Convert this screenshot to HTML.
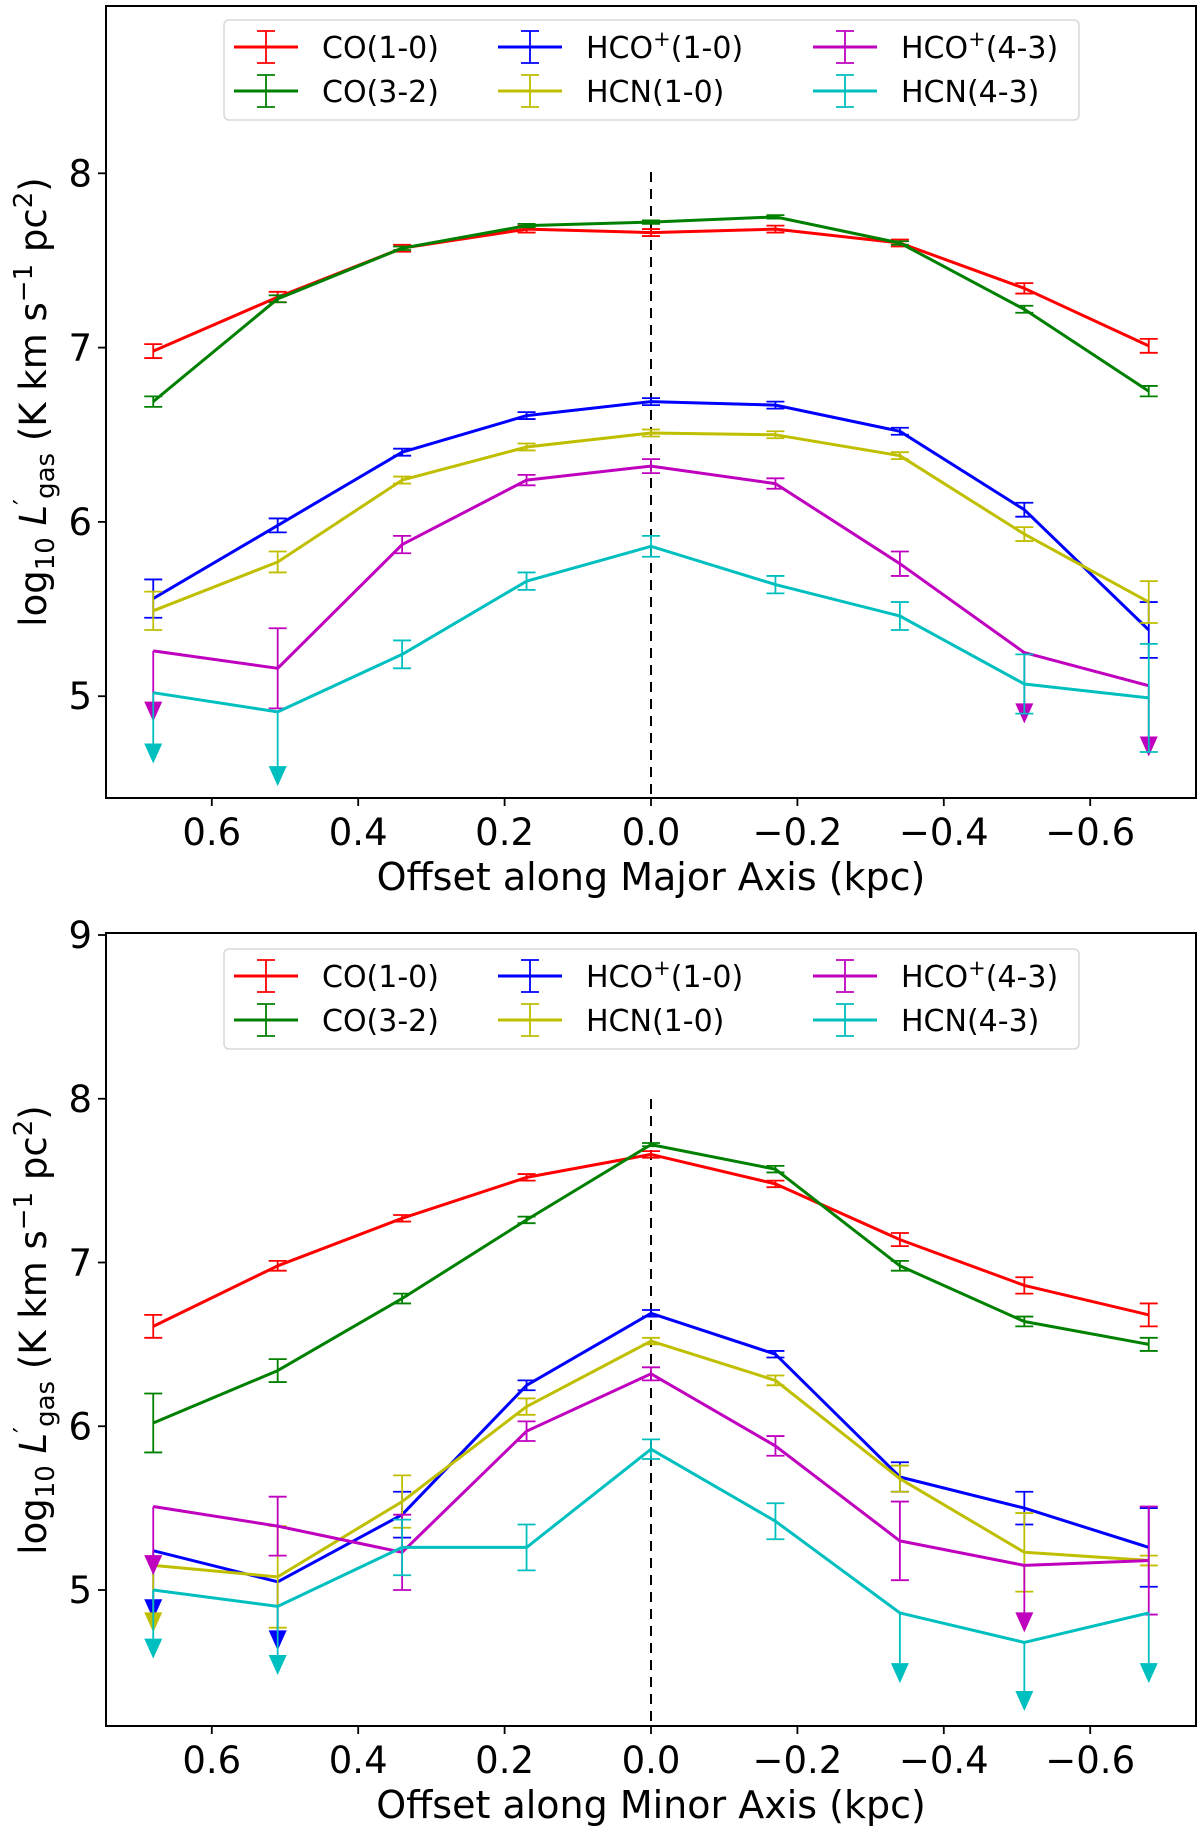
<!DOCTYPE html>
<html><head><meta charset="utf-8"><style>
html,body{margin:0;padding:0;background:#fff}
svg{display:block;font-family:"DejaVu Sans","Liberation Sans",sans-serif}
</style></head><body>
<svg id="fig" width="1200" height="1830" viewBox="0 0 1200 1830" xmlns="http://www.w3.org/2000/svg"></svg>
<script>
const offsets=[0.68,0.51,0.34,0.17,0,-0.17,-0.34,-0.51,-0.68];
const xTicks=[0.6,0.4,0.2,0.0,-0.2,-0.4,-0.6];
const xTickLabels=["0.6","0.4","0.2","0.0","\u22120.2","\u22120.4","\u22120.6"];
const seriesNames=["CO(1-0)","CO(3-2)","HCO+(1-0)","HCN(1-0)","HCO+(4-3)","HCN(4-3)"];
const seriesColors=["#ff0000","#008000","#0000ff","#bfbf00","#bf00bf","#00bfbf"];
// Major axis panel
const majCO10=[6.98,7.29,7.57,7.68,7.66,7.68,7.60,7.34,7.01];
const majCO10err=[0.04,0.03,0.02,0.02,0.02,0.02,0.02,0.03,0.04];
const majCO32=[6.69,7.28,7.57,7.70,7.72,7.75,7.60,7.22,6.75];
const majCO32err=[0.03,0.02,0.01,0.01,0.01,0.01,0.01,0.02,0.03];
const majHCOp10=[5.56,5.98,6.40,6.61,6.69,6.67,6.52,6.07,5.38];
const majHCOp10err=[0.11,0.04,0.02,0.02,0.02,0.02,0.02,0.04,0.16];
const majHCN10=[5.49,5.77,6.24,6.43,6.51,6.50,6.38,5.93,5.54];
const majHCN10err=[0.11,0.06,0.02,0.02,0.02,0.02,0.02,0.04,0.12];
const majHCOp43=[5.26,5.16,5.87,6.24,6.32,6.22,5.76,5.25,5.06];
const majHCOp43err=[0.36,0.23,0.05,0.03,0.04,0.03,0.07,0.36,0.36];
const majHCOp43lim=[1,0,0,0,0,0,0,1,1];
const majHCN43=[5.02,4.91,5.24,5.66,5.86,5.64,5.46,5.07,4.99];
const majHCN43err=[0.36,0.38,0.08,0.05,0.06,0.05,0.08,0.17,0.31];
const majHCN43lim=[1,1,0,0,0,0,0,0,0];
// Minor axis panel
const minCO10=[6.61,6.98,7.27,7.52,7.66,7.48,7.14,6.86,6.68];
const minCO10err=[0.07,0.03,0.02,0.02,0.02,0.02,0.04,0.05,0.07];
const minCO32=[6.02,6.34,6.78,7.26,7.72,7.57,6.98,6.64,6.50];
const minCO32err=[0.18,0.07,0.03,0.02,0.01,0.02,0.03,0.03,0.04];
const minHCOp10=[5.24,5.05,5.46,6.25,6.69,6.44,5.69,5.50,5.26];
const minHCOp10err=[0.37,0.37,0.14,0.03,0.02,0.02,0.09,0.10,0.24];
const minHCOp10lim=[1,1,0,0,0,0,0,0,0];
const minHCN10=[5.15,5.08,5.54,6.12,6.52,6.28,5.68,5.23,5.18];
const minHCN10err=[0.36,0.31,0.16,0.05,0.02,0.03,0.08,0.24,0.03];
const minHCN10lim=[1,0,0,0,0,0,0,0,0];
const minHCOp43=[5.51,5.39,5.23,5.97,6.32,5.88,5.30,5.15,5.18];
const minHCOp43err=[0.37,0.18,0.23,0.06,0.04,0.06,0.24,0.36,0.33];
const minHCOp43lim=[1,0,0,0,0,0,0,1,0];
const minHCN43=[5.00,4.90,5.26,5.26,5.86,5.42,4.86,4.68,4.86];
const minHCN43err=[0.37,0.37,0.17,0.14,0.06,0.11,0.38,0.37,0.38];
const minHCN43lim=[1,1,0,0,0,0,1,1,1];

const NS="http://www.w3.org/2000/svg";
const svg=document.getElementById('fig');
function mk(tag,attrs,parent){const e=document.createElementNS(NS,tag);for(const k in attrs)e.setAttribute(k,attrs[k]);(parent||svg).appendChild(e);return e;}

const zeros=[0,0,0,0,0,0,0,0,0];
const panels=[
 {name:'major',top:6,bottom:798,y0val:8,y0px:173.3,ppu:174.3,yTicks:[5,6,7,8],xlabel:'Offset along Major Axis (kpc)',
  legendY:20,dashTop:172,ylabelY:402,
  series:[[majCO10,majCO10err,zeros],[majCO32,majCO32err,zeros],[majHCOp10,majHCOp10err,zeros],[majHCN10,majHCN10err,zeros],[majHCOp43,majHCOp43err,majHCOp43lim],[majHCN43,majHCN43err,majHCN43lim]]},
 {name:'minor',top:933,bottom:1726,y0val:9,y0px:935,ppu:163.75,yTicks:[5,6,7,8,9],xlabel:'Offset along Minor Axis (kpc)',
  legendY:949,dashTop:1099,ylabelY:1330,
  series:[[minCO10,minCO10err,zeros],[minCO32,minCO32err,zeros],[minHCOp10,minHCOp10err,minHCOp10lim],[minHCN10,minHCN10err,minHCN10lim],[minHCOp43,minHCOp43err,minHCOp43lim],[minHCN43,minHCN43err,minHCN43lim]]}
];
const L=106,R=1196,X0=651,XPU=732;
function xs(v){return X0-v*XPU;}

panels.forEach(p=>{
 const g=mk('g',{});
 
 
 const ys=v=>p.y0px+(p.y0val-v)*p.ppu;
 const clipId='clip-'+p.name;
 const cp=mk('clipPath',{id:clipId},g);
 mk('rect',{x:L,y:p.top,width:R-L,height:p.bottom-p.top},cp);
 const dl=mk('line',{x1:xs(0),x2:xs(0),y1:p.dashTop,y2:p.bottom,stroke:'#000','stroke-width':2,'stroke-dasharray':'10,7'},g);
 
 
 const plot=mk('g',{'clip-path':'url(#'+clipId+')'},g);
 p.series.forEach((s,si)=>{
  const [vals,errs,lims]=s;const col=seriesColors[si];
  const sg=mk('g',{},plot);
  
  
  const pts=vals.map((v,i)=>xs(offsets[i]).toFixed(1)+','+ys(v).toFixed(1)).join(' ');
  const pl=mk('polyline',{points:pts,fill:'none',stroke:col,'stroke-width':3,'stroke-linejoin':'round'},sg);
  
  
  vals.forEach((v,i)=>{
   const x=xs(offsets[i]);
   if(lims[i]){
    const yb=ys(v-errs[i]);
    mk('line',{x1:x,x2:x,y1:ys(v),y2:yb,stroke:col,'stroke-width':1.8},sg);
    const ar=mk('polygon',{points:(x-9)+','+(yb-12)+' '+(x+9)+','+(yb-12)+' '+x+','+(yb+8),fill:col},sg);
    
    
   } else {
    const y1=ys(v+errs[i]),y2=ys(v-errs[i]);
    const eb=mk('path',{d:`M${x},${y1}V${y2}M${x-9},${y1}H${x+9}M${x-9},${y2}H${x+9}`,stroke:col,'stroke-width':1.8,fill:'none'},sg);
    
    
   }
  });
 });
 const fr=mk('rect',{x:L,y:p.top,width:R-L,height:p.bottom-p.top,fill:'none',stroke:'#000','stroke-width':2},g);
 
 
 p.yTicks.forEach(t=>{
  const y=ys(t);
  mk('line',{x1:L-8,x2:L,y1:y,y2:y,stroke:'#000','stroke-width':1.8},g);
  const tx=mk('text',{x:L-14,y:y+13,'text-anchor':'end','font-size':37},g);
  tx.textContent=String(t);
  
  
 });
 xTicks.forEach((t,i)=>{
  const x=xs(t);
  mk('line',{x1:x,x2:x,y1:p.bottom,y2:p.bottom+8,stroke:'#000','stroke-width':1.8},g);
  const tx=mk('text',{x:x,y:p.bottom+47,'text-anchor':'middle','font-size':37},g);
  tx.textContent=xTickLabels[i];
  
  
 });
 const xl=mk('text',{x:(L+R)/2,y:p.bottom+92,'text-anchor':'middle','font-size':38},g);
 xl.textContent=p.xlabel;
 
 
 const yl=mk('text',{x:0,y:0,'text-anchor':'middle','font-size':37,transform:`translate(46,${p.ylabelY}) rotate(-90)`},g);
 yl.innerHTML='log<tspan font-size="26" dy="8">10</tspan><tspan dy="-8" font-style="italic"> L</tspan><tspan dy="-14" font-size="26">\u2032</tspan><tspan dy="22" font-size="26">gas</tspan><tspan dy="-8">  (K km s</tspan><tspan dy="-14" font-size="26">\u22121</tspan><tspan dy="14"> pc</tspan><tspan dy="-14" font-size="26">2</tspan><tspan dy="14">)</tspan>';
 
 
 const lg=mk('g',{},g);
 
 
 mk('rect',{x:224,y:p.legendY,width:855,height:100,rx:5,fill:'#fff',stroke:'#d8d8d8','stroke-width':1.5},lg);
 const colX=[234,498,813];
 const order=[[0,2,4],[1,3,5]];
 order.forEach((row,ri)=>row.forEach((si,ci)=>{
  const y=p.legendY+27+ri*44;const x=colX[ci];const col=seriesColors[si];
  const e=mk('g',{},lg);
  
  
  mk('line',{x1:x,x2:x+64,y1:y,y2:y,stroke:col,'stroke-width':3},e);
  mk('path',{d:`M${x+32},${y-16}V${y+16}M${x+23},${y-16}H${x+41}M${x+23},${y+16}H${x+41}`,stroke:col,'stroke-width':1.8,fill:'none'},e);
  const t=mk('text',{x:x+88,y:y+11,'font-size':30},e);
  const nm=seriesNames[si];
  if(nm.startsWith('HCO+')) t.innerHTML='HCO<tspan dy="-12" font-size="21">+</tspan><tspan dy="12">'+nm.slice(4)+'</tspan>';
  else t.textContent=nm;
 }));
});
</script>
</body></html>
